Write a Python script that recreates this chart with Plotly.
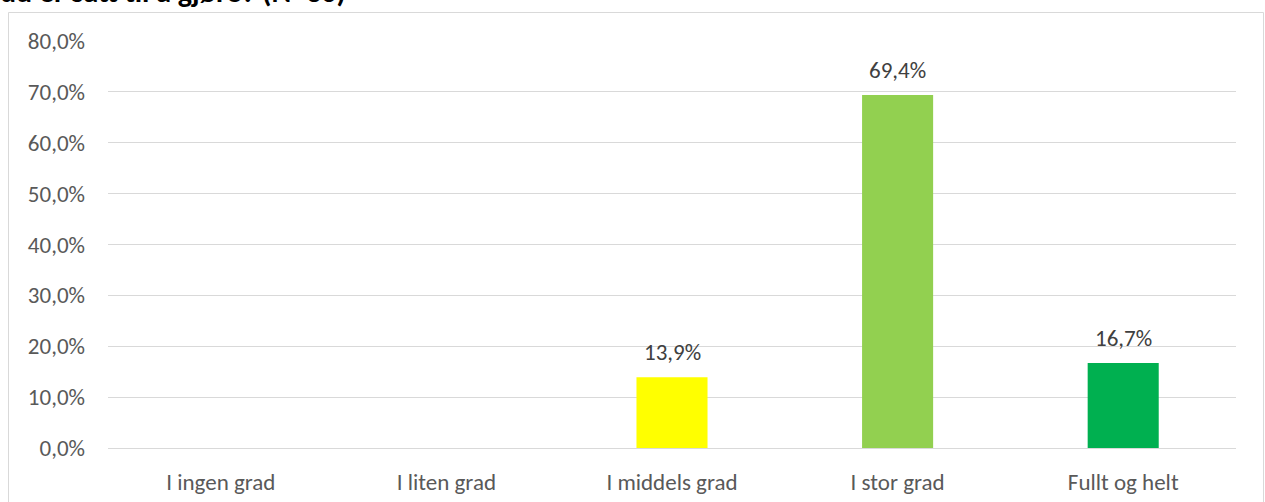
import plotly.graph_objects as go

# Response categories and share of respondents (%)
categories = ["I ingen grad", "I liten grad", "I middels grad", "I stor grad", "Fullt og helt"]
shares = [0.0, 0.0, 13.9, 69.4, 16.7]
bar_colors = ["#FFFF00", "#FFFF00", "#FFFF00", "#92D050", "#00B050"]
y_ticks = [0, 10, 20, 30, 40, 50, 60, 70, 80]
title_text = "du er satt til å gjøre? (N=36)"

FONT = "Carlito, Lato, 'Liberation Sans', sans-serif"
W, H = 1265, 502
ML, MR, MT, MB = 108, 29, 41, 54
plot_w = W - ML - MR
plot_h = H - MT - MB

fig = go.Figure()
fig.add_trace(go.Bar(
    x=categories,
    y=shares,
    marker=dict(color=bar_colors, line=dict(width=0)),
    width=0.315,
    hoverinfo="skip",
))

# Value labels above non-empty bars
for cat, val in zip(categories, shares):
    if val > 0:
        fig.add_annotation(
            x=cat, y=val, xref="x", yref="y",
            text=f"{val:.1f}%".replace(".", ","),
            showarrow=False, yanchor="bottom", yshift=9,
            font=dict(family=FONT, size=23, color="#404040"),
        )

def px_to_paper_x(px):
    return (px - ML) / plot_w

def px_to_paper_y(py):
    return 1 + (MT - py) / plot_h

# Outer chart frame
fig.add_shape(
    type="rect", xref="paper", yref="paper",
    x0=px_to_paper_x(8.5), x1=px_to_paper_x(1263.5),
    y0=px_to_paper_y(520), y1=px_to_paper_y(12.5),
    line=dict(color="#D9D9D9", width=1), fillcolor="rgba(0,0,0,0)", layer="below",
)

# Title (second line of a wrapped heading)
fig.add_annotation(
    x=px_to_paper_x(-2), y=px_to_paper_y(12), xref="paper", yref="paper",
    xanchor="left", yanchor="bottom", showarrow=False,
    text=f"<b>{title_text}</b>",
    font=dict(family=FONT, size=30, color="#000000"),
)

fig.update_layout(
    width=W, height=H,
    margin=dict(l=ML, r=MR, t=MT, b=MB, pad=0, autoexpand=False),
    paper_bgcolor="white", plot_bgcolor="white",
    separators=", ",
    showlegend=False,
    bargap=0.685,
    xaxis=dict(
        showgrid=False, showline=False, zeroline=False, ticks="",
        tickfont=dict(family=FONT, size=23, color="#595959"),
        ticklabelstandoff=18,
        automargin=False,
        fixedrange=True,
    ),
    yaxis=dict(
        range=[0, 80], tickvals=y_ticks,
        ticktext=[f"{t:.1f}%".replace(".", ",") for t in y_ticks],
        showgrid=True, gridcolor="#D9D9D9", gridwidth=1,
        zeroline=True, zerolinecolor="#D9D9D9", zerolinewidth=1,
        showline=False, ticks="",
        tickfont=dict(family=FONT, size=23, color="#595959"),
        ticklabelstandoff=22,
        automargin=False,
        fixedrange=True,
    ),
)

fig.write_html("out.html", config={"displayModeBar": False})
